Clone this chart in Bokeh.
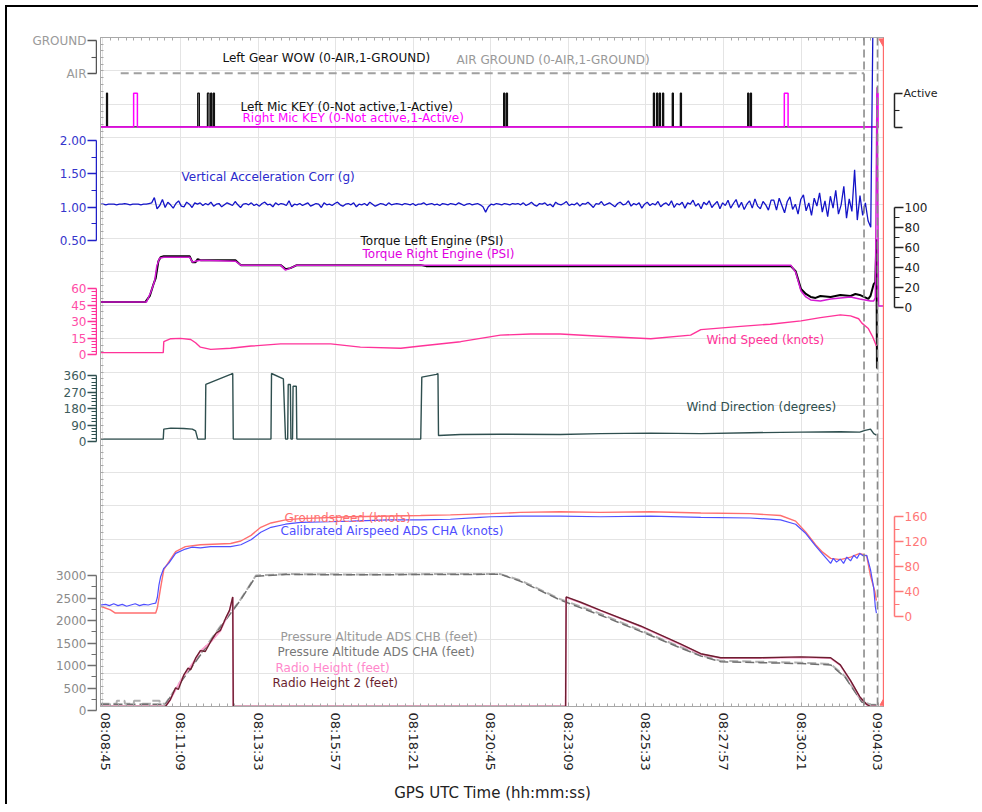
import numpy as np
from bokeh.plotting import figure
from bokeh.models import Range1d, LinearAxis, FixedTicker, Grid, Span, Label, Spacer
from bokeh.layouts import row, column
from bokeh.embed import file_html
from bokeh.resources import INLINE

FONT = "DejaVu Sans"

# ---------------- data ----------------
tick_secs = [0, 144, 288, 432, 576, 720, 864, 1008, 1152, 1296, 1440]
tick_labels = ["08:08:45", "08:11:09", "08:13:33", "08:15:57", "08:18:21", "08:20:45",
               "08:23:09", "08:25:33", "08:27:57", "08:30:21", "09:04:03"]

# Left gear WOW / AIR GROUND (0 = AIR)
wow_t = [33, 1413]
wow_v = [0, 0]

# mic keying pulses (start, end) in seconds
left_mic_pulses = [(6.7, 8.5), (176, 179), (194, 197), (200, 202), (205, 207), (744, 746), (749, 751),
                   (1022, 1024), (1028, 1030), (1033, 1035), (1039, 1041), (1057, 1059), (1072, 1074),
                   (1197, 1199), (1202, 1204)]
right_mic_pulses = [(57, 64), (1265, 1272), (1437, 1439)]
mic_span = [-4.5, 1440]

# vertical acceleration (g), sampled every 5 s from -4.5 s
accel_t0 = -4.5
accel_dt = 5
accel_g = [
    1.03, 1.03, 1.02, 1.03, 1.03, 1.03, 1.02, 1.03, 1.03, 1.04, 1.03, 1.02, 1.03, 1.03, 1.03, 1.02, 1.03, 1.03, 1.04,
    1.05, 1.13, 0.96, 1.01, 1.10, 0.98, 1.06, 1.02, 0.97, 1.04, 1.08, 1.00, 0.99, 1.06, 1.03, 0.98, 1.05,
    1.03, 1.05, 1.01, 1.04, 1.02, 1.06, 1.00, 1.03, 1.04, 0.99,
    1.02, 1.05, 1.03, 1.01, 1.07, 1.02, 0.98, 1.03, 1.04, 1.02,
    1.05, 1.01, 1.03, 1.00, 1.04, 1.06, 1.02, 1.03, 0.99, 1.05,
    1.02, 1.04, 1.03, 1.01, 1.08, 0.99, 1.03, 1.02, 1.04, 1.01,
    1.03, 1.05, 1.00, 1.02, 1.04, 1.03, 0.98, 1.05, 1.02, 1.03,
    1.01, 1.04, 1.06, 1.02, 1.00, 1.03, 1.04, 1.02, 1.05, 0.99,
    1.03, 1.02, 1.04, 1.01, 1.06, 1.03, 1.00, 1.02, 1.04, 1.03,
    1.01, 1.05, 1.02, 1.03, 1.04,
    1.03, 1.02, 1.04, 1.03, 1.02, 1.04, 1.01, 1.03, 1.03, 1.05,
    1.02, 1.03, 1.04, 1.02, 1.03, 1.01, 1.04, 1.03, 1.02, 1.04,
    1.03, 1.02, 1.05, 1.03, 1.01, 1.03, 1.04, 1.02, 1.03, 1.04,
    1.02, 0.99, 0.91, 0.99, 1.03, 1.02, 1.04, 1.03, 1.02, 1.04,
    1.03, 1.02, 1.04, 1.03,
    1.04, 1.02, 1.05, 1.01, 1.03, 1.06, 1.02, 1.00, 1.04, 1.03,
    1.05, 1.01, 1.03, 0.99, 1.06, 1.03, 1.02, 1.04, 1.07, 1.01,
    1.03, 1.02, 1.05, 1.00, 1.04, 1.03, 1.06, 1.02, 0.98, 1.04,
    1.03, 1.07, 1.01, 1.03, 1.05, 1.02, 0.99, 1.04, 1.06, 1.02,
    1.03, 1.08, 1.00, 1.04, 1.02, 1.05, 0.97, 1.03, 1.06, 1.01,
    1.04, 1.02, 1.07, 0.99, 1.03, 1.05, 1.01, 1.08, 0.98, 1.04,
    1.02, 1.06, 0.97, 1.05, 1.03, 1.09, 1.00, 1.04, 0.96, 1.06,
    1.02, 1.08, 0.98, 1.03, 1.07, 0.96, 1.05, 1.01, 1.09, 0.97,
    1.04, 1.10, 0.98, 1.06, 0.95, 1.03, 1.08, 0.97, 1.11, 1.00,
    0.96, 1.07, 1.02, 0.94, 1.09,
    1.09, 0.94, 1.12, 1.01, 0.90, 1.07, 1.14, 0.95, 1.03, 0.88,
    1.10, 1.17, 0.93, 1.05, 0.86, 1.12, 1.00, 1.20, 0.91, 1.08,
    0.84, 1.15, 0.97, 1.24, 0.88, 1.02, 1.30, 0.82, 1.11, 0.92,
    1.55, 0.79, 1.16, 0.86, 1.05, 0.78, 0.68,
    4.50]

# torque (PSI)
tq_left_t = [-4.5, 79, 87, 94, 98, 103, 107, 113, 161, 166, 172, 176, 181, 190, 246, 256, 330, 339, 348, 360,
             590, 600, 1277, 1286, 1296, 1305, 1314, 1323, 1332, 1351, 1369, 1388, 1397, 1405, 1413, 1421,
             1425, 1431, 1434, 1436, 1437]
tq_left_psi = [4, 4, 10, 22, 28, 45, 49, 50, 50, 44, 44, 47, 46, 46, 46, 41, 41, 37, 38, 41,
               41, 40, 40, 35, 17, 12, 9, 8, 10, 9, 11, 10, 12, 11, 9, 7,
               10, 22, 24, 67, -63]
tq_right_t = [-4.5, 81, 89, 96, 100, 105, 113, 161, 166, 172, 181, 246, 256, 330, 339, 348, 360, 1277, 1286,
              1296, 1305, 1314, 1332, 1351, 1369, 1388, 1405, 1415, 1425, 1431, 1434, 1437, 1440, 1451]
tq_right_psi = [4, 4, 14, 25, 40, 48, 49, 49, 44, 45, 46, 45, 41, 41, 36, 38, 41, 41, 34,
                15, 9, 6, 5, 7, 8, 9, 7, 6, 5, 5, 8, 220, 0, 0]

# wind speed (knots)
ws_t = [-4.5, 112, 113, 126, 144, 163, 172, 181, 200, 237, 275, 330, 367, 423, 478, 553, 590, 664, 738, 794,
        849, 924, 1017, 1091, 1110, 1184, 1239, 1296, 1332, 1369, 1388, 1403, 1409, 1421, 1429, 1436]
ws_kt = [0, 0, 10, 12.7, 13, 12, 9, 5, 3, 4, 6, 8, 8, 8, 5, 4, 6, 10, 16, 17,
         17, 15, 12.7, 16, 21, 24, 26, 29, 32, 34.5, 33.6, 31, 27, 22, 14.5, 6]

# wind direction (degrees)
wd_t = [-4.5, 112, 113, 126, 150, 166, 172, 176, 190, 191, 237, 241, 242, 312, 313, 335, 339, 343, 344, 348,
        349, 352, 353, 359, 360, 590, 592, 619, 622, 623, 664, 738, 849, 924, 1017, 1110, 1202, 1296, 1369,
        1405, 1415, 1425, 1431, 1436]
wd_deg = [0, 0, 55, 60, 58, 55, 45, 0, 0, 300, 355, 360, 0, 0, 360, 330, 0, 0, 300, 300,
          0, 0, 290, 290, 0, 0, 340, 355, 360, 20, 25, 27, 25, 30, 33, 30, 35, 38, 40,
          38, 48, 55, 30, 22]

# groundspeed / calibrated airspeed (knots)
gs_t = [-4.5, 14, 23, 98, 101, 107, 113, 122, 135, 153, 181, 237, 256, 275, 293, 312, 339, 367, 460, 590, 645,
        720, 775, 849, 924, 1017, 1110, 1202, 1258, 1286, 1305, 1323, 1336, 1351, 1369, 1388, 1405, 1418, 1425,
        1433, 1436]
gs_kt = [11, 5, 0, 0, 8, 40, 70, 82, 99, 107, 110, 112, 116, 125, 138, 145, 150, 152, 155, 157, 158,
         160, 162, 163, 162, 163, 161, 160, 157, 148, 130, 110, 98, 88, 86, 90, 96, 92, 60,
         35, 20]
cas_t = [-4.5, 5, 12, 20, 28, 36, 44, 52, 60, 68, 76, 84, 92, 98, 101, 104, 107, 113, 122, 135, 153, 165, 181,
         200, 237, 256, 275, 293, 312, 339, 367, 420, 460, 530, 590, 645, 700, 720, 775, 849, 924, 1017, 1110,
         1202, 1258, 1286, 1305, 1323, 1336, 1345, 1351, 1356, 1362, 1369, 1375, 1381, 1388, 1394, 1400, 1405,
         1412, 1418, 1425, 1431, 1434, 1436]
cas_kt = [13, 14, 12, 15, 12, 14, 11, 13, 15, 12, 14, 13, 15, 16, 25, 45, 58, 72, 80, 96, 103, 106, 105,
          107, 107, 110, 118, 130, 138, 143, 146, 147, 148, 150, 150, 151, 154, 155, 156, 156, 155, 156, 154,
          153, 150, 143, 128, 108, 95, 86, 80, 88, 82, 87, 80, 90, 84, 93, 88, 96,
          92, 93, 70, 40, 10, 0]

# pressure altitude (feet)
palt_b_t = [-4.5, 25, 26, 40, 41, 57, 58, 72, 73, 90, 91, 105, 106, 116, 144, 181, 218, 256, 284, 340, 500,
            600, 738, 775, 849, 924, 998, 1072, 1110, 1147, 1221, 1296, 1351, 1378, 1397, 1409, 1425, 1436]
palt_b_ft = [60, 60, 130, 130, 60, 60, 130, 130, 60, 60, 130, 130, 60, 60, 560, 1170, 1790, 2400, 2930, 2960,
             2950, 2960, 2960, 2820, 2400, 2070, 1700, 1330, 1150, 1020, 1000, 980, 950, 670, 330, 110, 45, 40]
palt_a_t = [-4.5, 116, 144, 181, 218, 256, 284, 340, 500, 600, 738, 775, 849, 924, 998, 1072, 1110, 1147,
            1221, 1296, 1351, 1378, 1397, 1409, 1425, 1436]
palt_a_ft = [50, 50, 540, 1150, 1770, 2390, 2910, 2950, 2945, 2950, 2955, 2800, 2380, 2040, 1680, 1310, 1130,
             1000, 980, 960, 930, 650, 310, 100, 40, 35]

# radio heights (feet)
rh_t = [-4.5, 116, 126, 136, 150, 160, 172, 181, 200, 218, 235, 241, 242, 859, 860, 887, 924, 998, 1072,
        1110, 1147, 1221, 1296, 1351, 1369, 1388, 1405, 1418, 1425, 1436]
rh_ft = [0, 0, 170, 400, 690, 850, 1060, 1240, 1440, 1690, 2140, 2440, 0, 0, 2440, 2320, 2140, 1790, 1390,
         1170, 1080, 1080, 1100, 1080, 920, 570, 210, 40, 0, 0]
rh2_t = [-4.5, 116, 125, 135, 140, 150, 158, 163, 172, 181, 190, 200, 210, 218, 228, 235, 241, 242, 859, 860,
         887, 924, 998, 1072, 1110, 1147, 1221, 1296, 1351, 1369, 1388, 1405, 1418, 1425, 1436]
rh2_ft = [0, 0, 150, 420, 380, 700, 860, 820, 1080, 1250, 1230, 1450, 1640, 1700, 1980, 2150, 2450, 0, 0, 2450,
          2330, 2150, 1800, 1400, 1180, 1090, 1090, 1110, 1090, 930, 580, 220, 45, 0, 0]

event_secs = [1413, 1438]
cursor_sec = [1449]

# ---------------- layout constants (page pixels) ----------------
FR_TOP, FR_BOT = 37, 710
PAGE = 7
LW, MW, RW = 90, 787, 94
X0_LEFT = PAGE
X0_MAIN = PAGE + LW
X0_RIGHT = X0_MAIN + MW
MAIN_BORDER_LEFT = 3

# band: (value_a, page_y_a, value_b, page_y_b)
BAND = {
    "wow": (0, 73, 1, 40),
    "mic": (0, 127, 1, 93),
    "acc": (0.5, 240, 2.0, 140),
    "tq": (0, 307, 100, 207),
    "ws": (0, 354, 60, 288),
    "wd": (0, 441, 360, 375),
    "spd": (0, 616, 160, 516),
    "alt": (0, 710, 3000, 575),
}


def band_val(b, py):
    v0, y0, v1, y1 = b
    return v0 + (py - y0) * (v1 - v0) / (y1 - y0)


X_START, X_END = -4.5, 1451
U_MAX = 20


def sec_at(px):
    x_left = X0_MAIN + MAIN_BORDER_LEFT
    return X_START + (px - x_left) * (X_END - X_START) / (MW - MAIN_BORDER_LEFT)


def u_at(py):
    return (FR_BOT - py) * U_MAX / (FR_BOT - FR_TOP)


def pulses_to_steps(pulses, t0, t1):
    xs, ys = [t0], [0]
    for s, e in pulses:
        xs += [s, s, e, e]
        ys += [0, 1, 1, 0]
    xs.append(t1)
    ys.append(0)
    return xs, ys


# ---------------- main figure ----------------
p = figure(width=MW, height=(FR_TOP - PAGE) + (FR_BOT - FR_TOP) + 94,
           x_range=Range1d(X_START, X_END), y_range=Range1d(0, U_MAX),
           toolbar_location=None, output_backend="svg", y_axis_type=None,
           min_border_left=MAIN_BORDER_LEFT, min_border_right=0, min_border_top=FR_TOP - PAGE,
           min_border_bottom=94,
           outline_line_color="#a8a8a8", background_fill_color="white", border_fill_color="white")
p.extra_y_ranges = {k: Range1d(band_val(b, FR_BOT), band_val(b, FR_TOP)) for k, b in BAND.items()}

minor_secs = [t + k * 14.4 for t in tick_secs[:-1] for k in range(1, 10)]
xt = FixedTicker(ticks=tick_secs, minor_ticks=minor_secs)
xa = p.xaxis[0]
xa.ticker = xt
xa.major_label_overrides = {t: l for t, l in zip(tick_secs, tick_labels)}
xa.major_label_orientation = "vertical"
xa.major_label_text_font = FONT
xa.major_label_text_font_size = "13px"
xa.major_label_text_color = "#222222"
xa.major_label_standoff = 6
xa.axis_label = "GPS UTC Time (hh:mm:ss)"
xa.axis_label_text_font = FONT
xa.axis_label_text_font_size = "15px"
xa.axis_label_text_font_style = "normal"
xa.axis_label_text_color = "#222222"
xa.axis_label_standoff = 10
xa.axis_line_color = "#a8a8a8"
xa.major_tick_in = 4
xa.major_tick_out = 0
xa.minor_tick_in = 3
xa.minor_tick_out = 0
xa.major_tick_line_color = "#a8a8a8"
xa.minor_tick_line_color = "#a8a8a8"
p.xgrid.ticker = xt
p.xgrid.grid_line_color = "#e4e4e4"

p.add_layout(Grid(dimension=1, ticker=FixedTicker(ticks=list(range(0, U_MAX + 1))),
                  grid_line_color="#e4e4e4"))

top_axis = LinearAxis(ticker=FixedTicker(ticks=[], minor_ticks=minor_secs),
                      major_label_text_font_size="0px", major_label_standoff=0,
                      major_tick_in=0, major_tick_out=0, minor_tick_in=3, minor_tick_out=0,
                      axis_line_color="#a8a8a8", minor_tick_line_color="#a8a8a8")
p.add_layout(top_axis, "above")
inner_left = LinearAxis(ticker=FixedTicker(ticks=[], minor_ticks=[round(k * 0.2, 2) for k in range(1, 100)]),
                        major_label_text_font_size="0px", major_label_standoff=0,
                        major_tick_in=0, major_tick_out=0, minor_tick_in=3, minor_tick_out=0,
                        axis_line_color="#a8a8a8", minor_tick_line_color="#a8a8a8")
p.add_layout(inner_left, "left")

# series
p.line(wow_t, wow_v, y_range_name="wow", line_color="#a0a0a0", line_width=2, line_dash="8 5")
lx, ly = pulses_to_steps(left_mic_pulses, mic_span[0], mic_span[1])
p.line(lx, ly, y_range_name="mic", line_color="#111111", line_width=1.3)
rx, ry = pulses_to_steps(right_mic_pulses, mic_span[0], mic_span[1])
p.line(rx, ry, y_range_name="mic", line_color="#ff00ff", line_width=1.5)

accel_t = [accel_t0 + accel_dt * i for i in range(len(accel_g))]
p.line(accel_t, accel_g, y_range_name="acc", line_color="#1414c8", line_width=1.3)

p.line(tq_left_t, tq_left_psi, y_range_name="tq", line_color="#000000", line_width=2)
p.line(tq_right_t, tq_right_psi, y_range_name="tq", line_color="#d41ad4", line_width=1.5)

p.line(ws_t, ws_kt, y_range_name="ws", line_color="#ff3399", line_width=1.4)
p.line(wd_t, wd_deg, y_range_name="wd", line_color="#2f4f4f", line_width=1.4)

p.line(gs_t, gs_kt, y_range_name="spd", line_color="#ff6f6f", line_width=1.4)
p.line(cas_t, cas_kt, y_range_name="spd", line_color="#5050ff", line_width=1.2)

p.line(palt_b_t, palt_b_ft, y_range_name="alt", line_color="#b0b0b0", line_width=2, line_dash="9 4")
p.line(palt_a_t, palt_a_ft, y_range_name="alt", line_color="#707070", line_width=1.5, line_dash="9 4")
p.line(rh_t, rh_ft, y_range_name="alt", line_color="#ff9fcf", line_width=1.8)
p.line(rh2_t, rh2_ft, y_range_name="alt", line_color="#6b1f2f", line_width=1.4)

for t in event_secs:
    p.add_layout(Span(location=t, dimension="height", line_color="#8a8a8a", line_width=1.6, line_dash="8 4"))
p.add_layout(Span(location=cursor_sec[0], dimension="height", line_color="#ff6a6a", line_width=1.2))
p.scatter(cursor_sec, [U_MAX - 0.12], marker="inverted_triangle", size=9, color="#ff6a6a")
p.scatter(cursor_sec, [0.1], marker="triangle", size=7, color="#ff6a6a")

# series labels (left edge px, centre y px, text, colour)
series_labels = [
    (222, 58, "Left Gear WOW (0-AIR,1-GROUND)", "#111111"),
    (456, 60, "AIR GROUND (0-AIR,1-GROUND)", "#999999"),
    (240, 107, "Left Mic KEY (0-Not active,1-Active)", "#111111"),
    (242, 118, "Right Mic KEY (0-Not active,1-Active)", "#ff00ff"),
    (181, 177, "Vertical Acceleration Corr (g)", "#2a2acc"),
    (360, 242, "Torque Left Engine (PSI)", "#111111"),
    (362, 255, "Torque Right Engine (PSI)", "#e000e0"),
    (706, 341, "Wind Speed (knots)", "#ff3399"),
    (686, 409, "Wind Direction (degrees)", "#2f4f4f"),
    (284, 520, "Groundspeed (knots)", "#ff7070"),
    (280, 533, "Calibrated Airspeed ADS CHA (knots)", "#5050ff"),
    (280, 640, "Pressure Altitude ADS CHB (feet)", "#999999"),
    (277, 655, "Pressure Altitude ADS CHA (feet)", "#777777"),
    (275, 671, "Radio Height (feet)", "#ff88cc"),
    (272, 686, "Radio Height 2 (feet)", "#6b1f2f"),
]
for px, py, txt, col in series_labels:
    p.add_layout(Label(x=sec_at(px), y=u_at(py), text=txt, text_color=col, text_font=FONT,
                       text_font_size="12px", text_baseline="middle", text_align="left"))


# ---------------- axis figures ----------------
def axis_fig(side, x0, width, top, height, band, line_x, ticks, minors, line_col, lab_col,
             overrides=None, font_size="12px", tick_out=9):
    b = BAND[band]
    if side == "left":
        mbl, mbr = line_x - x0, 0
    else:
        mbl, mbr = 0, x0 + width - line_x
    f = figure(width=width, height=height, x_range=Range1d(0, 1),
               y_range=Range1d(band_val(b, top + height), band_val(b, top)),
               toolbar_location=None, output_backend="svg", x_axis_type=None, y_axis_type=None,
               min_border_left=mbl, min_border_right=mbr, min_border_top=0, min_border_bottom=0,
               outline_line_color=None, background_fill_color="white", border_fill_color="white")
    ax = LinearAxis(ticker=FixedTicker(ticks=ticks, minor_ticks=minors), bounds=(min(ticks), max(ticks)),
                    axis_line_color=line_col, axis_line_width=1.5,
                    major_tick_line_color=line_col, minor_tick_line_color=line_col,
                    major_tick_line_width=1.3, minor_tick_line_width=1.1,
                    major_tick_out=tick_out, major_tick_in=0, minor_tick_out=5, minor_tick_in=0,
                    major_label_text_color=lab_col, major_label_text_font=FONT,
                    major_label_text_font_size=font_size, major_label_standoff=1)
    if overrides:
        ax.major_label_overrides = overrides
    f.add_layout(ax, side)
    return f


wow_ticks, wow_labels = [0, 1], ["AIR", "GROUND"]
acc_ticks, acc_labels = [0.5, 1.0, 1.5, 2.0], ["0.50", "1.00", "1.50", "2.00"]
ws_ticks = [0, 15, 30, 45, 60]
wd_ticks = [0, 90, 180, 270, 360]
alt_ticks = [0, 500, 1000, 1500, 2000, 2500, 3000]
act_ticks, act_labels = [0, 1], ["", "Active"]
tq_ticks = [0, 20, 40, 60, 80, 100]
spd_ticks = [0, 40, 80, 120, 160]

left_items = []
y = PAGE


def add_left(kind, h, **kw):
    global y
    if kind == "gap":
        left_items.append(Spacer(width=LW, height=h))
    else:
        left_items.append(axis_fig("left", X0_LEFT, LW, y, h, **kw))
    y += h


add_left("gap", 28 - PAGE)
add_left("ax", 58, band="wow", line_x=93, ticks=wow_ticks, minors=[0.5], line_col="#555555",
         lab_col="#9a9a9a", overrides=dict(zip(wow_ticks, wow_labels)))
add_left("gap", 42)
add_left("ax", 124, band="acc", line_x=86, ticks=acc_ticks, minors=[0.75, 1.25, 1.75], line_col="#2020c8",
         lab_col="#3535cc", overrides=dict(zip(acc_ticks, acc_labels)))
add_left("gap", 26)
add_left("ax", 86, band="ws", line_x=96, ticks=ws_ticks, minors=[v for v in range(0, 61, 3) if v % 15],
         line_col="#ff3399", lab_col="#ff4da6")
add_left("ax", 88, band="wd", line_x=90, ticks=wd_ticks, minors=[v for v in range(0, 361, 18) if v % 90],
         line_col="#2f4f4f", lab_col="#3d5c5c")
add_left("gap", 111)
add_left("ax", 159, band="alt", line_x=90, ticks=alt_ticks, minors=[250, 750, 1250, 1750, 2250, 2750],
         line_col="#707070", lab_col="#8a8a8a")

right_items = []
y = PAGE


def add_right(kind, h, **kw):
    global y
    if kind == "gap":
        right_items.append(Spacer(width=RW, height=h))
    else:
        right_items.append(axis_fig("right", X0_RIGHT, RW, y, h, **kw))
    y += h


add_right("gap", 85 - PAGE)
add_right("ax", 50, band="mic", line_x=930, ticks=act_ticks, minors=[0.5], line_col="#222222",
          lab_col="#222222", overrides=dict(zip(act_ticks, act_labels)), font_size="11px", tick_out=8)
add_right("gap", 62)
add_right("ax", 120, band="tq", line_x=894, ticks=tq_ticks, minors=[10, 30, 50, 70, 90], line_col="#222222",
          lab_col="#222222")
add_right("gap", 188)
add_right("ax", 121, band="spd", line_x=918, ticks=spd_ticks, minors=[20, 60, 100, 140], line_col="#ff7777",
          lab_col="#ff7777")

layout = row(column(*left_items), p, column(*right_items),
             styles={"margin-left": "5px", "margin-top": "5px",
                     "border-left": "2px solid #000000", "border-top": "2px solid #000000"})

open("out.html", "w").write(file_html(layout, INLINE))
